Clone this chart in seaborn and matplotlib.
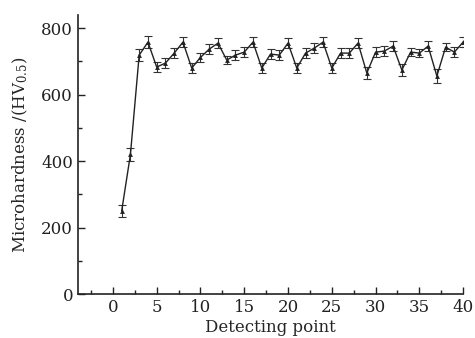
import numpy as np
import pandas as pd
import matplotlib
matplotlib.use("Agg")
import matplotlib.pyplot as plt
import seaborn as sns
from matplotlib.ticker import MultipleLocator

points = list(range(1, 41))
hardness = [250, 420, 719, 758, 683, 695, 725, 758, 680, 712,
            737, 755, 704, 719, 728, 758, 680, 722, 719, 755,
            680, 725, 740, 758, 680, 725, 725, 755, 665, 728,
            731, 746, 674, 728, 725, 746, 656, 743, 728, 758]
errors = [18, 20, 18, 18, 15, 14, 14, 16, 16, 14,
          14, 15, 13, 14, 14, 16, 16, 14, 14, 16,
          16, 14, 14, 14, 16, 14, 14, 16, 18, 14,
          14, 14, 18, 13, 13, 14, 20, 13, 14, 14]

df = pd.DataFrame({"point": points, "hardness": hardness, "err": errors})

sns.set_style("ticks")
plt.rcParams["font.family"] = ["DejaVu Serif"]
plt.rcParams["mathtext.fontset"] = "dejavuserif"

fig = plt.figure(figsize=(4.75, 3.38), dpi=100)
ax = fig.add_axes([0.164, 0.130, 0.811, 0.826])

ax.errorbar(df["point"], df["hardness"], yerr=df["err"], fmt="none",
            ecolor="#333333", elinewidth=0.8, capsize=3, capthick=0.8)
sns.lineplot(data=df, x="point", y="hardness", ax=ax, color="#222222",
             linewidth=1.0, marker="^", markersize=3.5, markeredgewidth=0)

ax.set_xlim(-4, 40)
ax.set_ylim(0, 840)
ax.set_xticks([0, 5, 10, 15, 20, 25, 30, 35, 40])
ax.set_yticks([0, 200, 400, 600, 800])
ax.xaxis.set_minor_locator(MultipleLocator(2.5))
ax.yaxis.set_minor_locator(MultipleLocator(100))
ax.tick_params(which="both", direction="in", width=1.0, colors="#222222", labelsize=12)
ax.tick_params(which="major", length=5)
ax.tick_params(which="minor", length=3)

ax.set_xlabel("Detecting point", fontsize=12, labelpad=2)
ax.set_ylabel("Microhardness /(HV$_{0.5}$)", fontsize=12, labelpad=8)

for s in ["top", "right"]:
    ax.spines[s].set_visible(False)
for s in ["left", "bottom"]:
    ax.spines[s].set_linewidth(1.2)
    ax.spines[s].set_color("#222222")

fig.savefig("out.png", dpi=100)
